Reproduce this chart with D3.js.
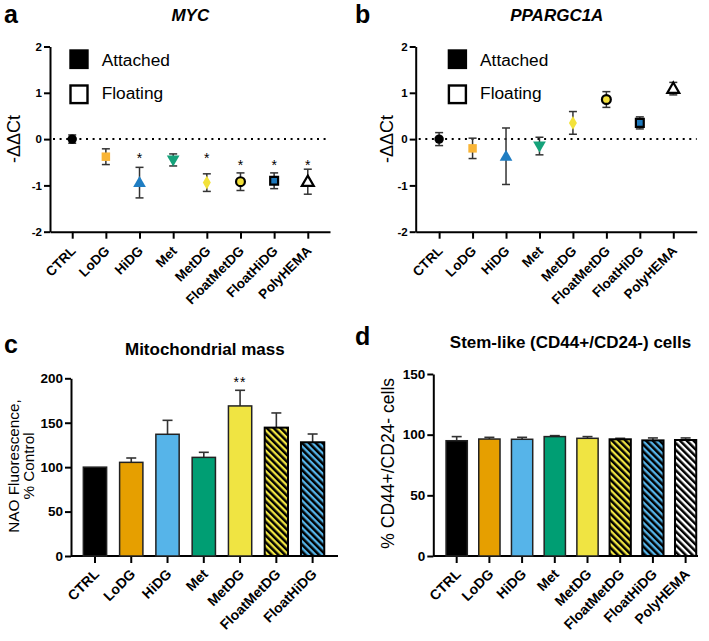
<!DOCTYPE html>
<html><head><meta charset="utf-8">
<script src="https://cdn.jsdelivr.net/npm/d3@7"></script>
<style>
body{margin:0;background:#fff}
svg{display:block}
text{font-family:"Liberation Sans",Arial,Helvetica,sans-serif}
</style>
</head><body>
<svg id="chart" width="709" height="641"></svg>
<script>
// ---------- DATA ----------
const categories = ["CTRL","LoDG","HiDG","Met","MetDG","FloatMetDG","FloatHiDG","PolyHEMA"];
const mycMean  = [0, -0.38, -0.94, -0.45, -0.94, -0.92, -0.90, -0.92];
const mycSem   = [0.09, 0.17, 0.33, 0.13, 0.19, 0.19, 0.17, 0.27];
const mycStars = ["", "", "*", "", "*", "*", "*", "*"];
const mycStarY = [null, null, -0.36, null, -0.36, -0.5, -0.5, -0.5];
const pgcMean  = [0, -0.20, -0.37, -0.15, 0.35, 0.855, 0.35, 1.09];
const pgcSem   = [0.14, 0.22, 0.61, 0.19, 0.245, 0.17, 0.13, 0.135];
const dctTicks = [-2, -1, 0, 1, 2];
const legendLabels = ["Attached", "Floating"];

const mitoCategories = ["CTRL","LoDG","HiDG","Met","MetDG","FloatMetDG","FloatHiDG"];
const mitoMean  = [100, 105.4, 137, 111, 168.9, 144.5, 128];
const mitoSem   = [0, 4.9, 15.7, 5.7, 17.6, 16.5, 9.3];
const mitoStars = ["", "", "", "", "**", "", ""];
const mitoStarY = [null, null, null, null, 199, null, null];
const mitoTicks = [0, 50, 100, 150, 200];

const stemMean  = [95, 96.4, 96.2, 98.4, 97, 96.2, 95.3, 95.6];
const stemSem   = [3.4, 1.4, 1.6, 0.8, 1.4, 0.8, 2.0, 1.7];
const stemTicks = [0, 50, 100, 150];

// ---------- STYLES ----------
const markerStyle = {
  CTRL:       {shape: d3.symbolCircle,   size: 70, fill: "#000000", stroke: "none", sw: 0},
  LoDG:       {shape: d3.symbolSquare,   size: 72, fill: "#F9B537", stroke: "none", sw: 0},
  HiDG:       {shape: d3.symbolTriangle, size: 70, fill: "#1F7DC2", stroke: "none", sw: 0},
  Met:        {shape: d3.symbolTriangle, size: 70, fill: "#15A27A", stroke: "none", sw: 0, rot: 180},
  MetDG:      {shape: d3.symbolDiamond,  size: 55, fill: "#F3E23A", stroke: "none", sw: 0},
  FloatMetDG: {shape: d3.symbolCircle,   size: 62, fill: "#F2E03A", stroke: "#000", sw: 2.2},
  FloatHiDG:  {shape: d3.symbolSquare,   size: 62, fill: "#1D78BC", stroke: "#000", sw: 2.2},
  PolyHEMA:   {shape: d3.symbolTriangle, size: 62, fill: "#FFFFFF", stroke: "#000", sw: 2.2}
};
const barFill = {
  CTRL: "#000000", LoDG: "#E69F00", HiDG: "#56B4E9", Met: "#009E73", MetDG: "#F0E442",
  FloatMetDG: "url(#hatchY)", FloatHiDG: "url(#hatchB)", PolyHEMA: "url(#hatchW)"
};
const FONT = '"Liberation Sans", Arial, Helvetica, sans-serif';

const svg = d3.select("#chart");
const defs = svg.append("defs");
[["hatchY","#F0E442"],["hatchB","#56B4E9"],["hatchW","#FFFFFF"]].forEach(([id,c])=>{
  const p = defs.append("pattern").attr("id", id).attr("patternUnits","userSpaceOnUse")
    .attr("width", 4.8).attr("height", 4.8).attr("patternTransform","rotate(-45)");
  p.append("rect").attr("width",4.8).attr("height",4.8).attr("fill",c);
  p.append("rect").attr("width",2.5).attr("height",4.8).attr("fill","#000");
});

function styleAxis(g, fs) {
  g.selectAll("path.domain").attr("stroke","#000").attr("stroke-width",2);
  g.selectAll(".tick line").attr("stroke","#000").attr("stroke-width",2);
  g.selectAll(".tick text").attr("fill","#000").attr("font-family",FONT)
    .attr("font-weight","bold").attr("font-size",fs);
}

function letter(txt, x, y) {
  svg.append("text").attr("x",x).attr("y",y).attr("font-size",25).attr("font-weight","bold").text(txt);
}
function title(txt, x, y, fs, italic) {
  svg.append("text").attr("x",x).attr("y",y).attr("text-anchor","middle").attr("font-size",fs)
    .attr("font-weight","bold").attr("font-style", italic ? "italic" : "normal").text(txt);
}
function ylabel(lines, x0, dx, cy, fs) {
  lines.forEach((l,i)=>{
    svg.append("text").attr("transform",`translate(${x0+i*dx},${cy}) rotate(-90)`)
      .attr("text-anchor","middle").attr("font-size",fs).text(l);
  });
}

// ---------- DOT PANELS ----------
function dotPanel(o) {
  const x = d3.scalePoint().domain(categories).range([o.x0, o.x1]).padding(o.pad);
  const y = d3.scaleLinear().domain([-2, 2]).range([231.7, 46.5]);
  const gx = svg.append("g").attr("transform",`translate(0,${y(-2)})`)
    .call(d3.axisBottom(x).tickSize(7).tickSizeOuter(0).tickFormat(""));
  styleAxis(gx, 13.5);
  categories.forEach(c=>{
    svg.append("text").attr("transform",`translate(${x(c)+4.5},${y(-2)+20}) rotate(-45)`)
      .attr("text-anchor","end").attr("font-size",13.5).attr("font-weight","bold").text(c);
  });
  const gy = svg.append("g").attr("transform",`translate(${o.x0},0)`)
    .call(d3.axisLeft(y).tickValues(dctTicks).tickSize(6).tickSizeOuter(0).tickPadding(2).tickFormat(d3.format("d")));
  styleAxis(gy, 11.5);
  gy.selectAll(".tick text").text(d => d < 0 ? "-" + Math.abs(d) : d);
  // dotted zero line
  svg.append("line").attr("x1",o.x0+3).attr("x2",o.x1).attr("y1",y(0)).attr("y2",y(0))
    .attr("stroke","#000").attr("stroke-width",2).attr("stroke-dasharray","2 4.6");
  // error bars
  categories.forEach((c,i)=>{
    const cx = x(c), lo = y(o.mean[i]-o.sem[i]), hi = y(o.mean[i]+o.sem[i]);
    const g = svg.append("g").attr("stroke","#333").attr("stroke-width",1.5);
    g.append("line").attr("x1",cx).attr("x2",cx).attr("y1",lo).attr("y2",hi);
    g.append("line").attr("x1",cx-4).attr("x2",cx+4).attr("y1",lo).attr("y2",lo);
    g.append("line").attr("x1",cx-4).attr("x2",cx+4).attr("y1",hi).attr("y2",hi);
  });
  categories.forEach((c,i)=>{
    const s = markerStyle[c];
    svg.append("path").attr("d", d3.symbol().type(s.shape).size(s.size)())
      .attr("transform",`translate(${x(c)},${y(o.mean[i]) + (s.shape===d3.symbolTriangle ? (s.rot?-0.8:0.8) : 0)}) rotate(${s.rot||0})`)
      .attr("fill", s.fill).attr("stroke", s.stroke).attr("stroke-width", s.sw);
  });
  if (o.stars) categories.forEach((c,i)=>{
    if (!o.stars[i]) return;
    svg.append("text").attr("x",x(c)).attr("y",y(o.starY[i])+7.5).attr("text-anchor","middle")
      .attr("font-size",14).text(o.stars[i]);
  });
  // legend
  svg.append("rect").attr("x",o.lx).attr("y",49.3).attr("width",19.4).attr("height",19.8).attr("fill","#000");
  svg.append("rect").attr("x",o.lx+1.2).attr("y",85.5).attr("width",17).attr("height",17.6)
    .attr("fill","#fff").attr("stroke","#000").attr("stroke-width",2.4);
  svg.append("text").attr("x",o.lx+32.4).attr("y",66).attr("font-size",17.3).text(legendLabels[0]);
  svg.append("text").attr("x",o.lx+32.4).attr("y",99).attr("font-size",17.3).text(legendLabels[1]);
}

dotPanel({x0:50, x1:330, pad:0.66, mean:mycMean, sem:mycSem, stars:mycStars, starY:mycStarY, lx:69.3});
dotPanel({x0:415.7, x1:696.7, pad:0.7, mean:pgcMean, sem:pgcSem, lx:447.7});
letter("a", 4, 22.7); letter("b", 355, 22.7);
title("MYC", 190.3, 20.7, 17, true);
title("PPARGC1A", 556.8, 20.7, 17, true);
ylabel(["-ΔΔCt"], 20, 0, 139, 18);
svg.append("text").attr("transform",`translate(393.3,139) rotate(-90)`).attr("text-anchor","middle")
  .attr("font-size",18).text("-ΔΔCt");

// ---------- BAR PANELS ----------
function barPanel(o) {
  const x = d3.scaleBand().domain(o.cats).range([o.x0, o.bandEnd]).paddingInner(o.pi).paddingOuter(o.po);
  const y = d3.scaleLinear().domain([0, o.ymax]).range([556, o.yTop]);
  const gx = svg.append("g").attr("transform",`translate(0,556)`)
    .call(d3.axisBottom(x).tickSize(7).tickSizeOuter(0).tickFormat(""));
  gx.select("path.domain").remove();
  styleAxis(gx, 14);
  svg.append("line").attr("x1",o.x0).attr("x2",o.axisEnd).attr("y1",556).attr("y2",556)
    .attr("stroke","#000").attr("stroke-width",2);
  o.cats.forEach(c=>{
    svg.append("text").attr("transform",`translate(${x(c)+x.bandwidth()/2+5},${556+19}) rotate(-45)`)
      .attr("text-anchor","end").attr("font-size",14).attr("font-weight","bold").text(c);
  });
  // error bars (upper only)
  o.cats.forEach((c,i)=>{
    if (!o.sem[i]) return;
    const cx = x(c)+x.bandwidth()/2, top = y(o.mean[i]+o.sem[i]);
    const g = svg.append("g").attr("stroke","#333").attr("stroke-width",1.6);
    g.append("line").attr("x1",cx).attr("x2",cx).attr("y1",y(o.mean[i])).attr("y2",top);
    g.append("line").attr("x1",cx-5).attr("x2",cx+5).attr("y1",top).attr("y2",top);
  });
  o.cats.forEach((c,i)=>{
    const hatched = barFill[c].startsWith("url");
    svg.append("rect").attr("x",x(c)).attr("width",x.bandwidth())
      .attr("y",y(o.mean[i])).attr("height",556 - y(o.mean[i]))
      .attr("fill",barFill[c]).attr("stroke", hatched ? "#000" : "#222").attr("stroke-width", hatched ? 2 : 1.5);
  });
  const gy = svg.append("g").attr("transform",`translate(${o.x0},0)`)
    .call(d3.axisLeft(y).tickValues(o.ticks).tickSize(6).tickSizeOuter(0).tickPadding(2));
  styleAxis(gy, 13.5);
  if (o.stars) o.cats.forEach((c,i)=>{
    if (!o.stars[i]) return;
    svg.append("text").attr("x",x(c)+x.bandwidth()/2).attr("y",y(o.starY[i])+8).attr("text-anchor","middle")
      .attr("font-size",14).attr("letter-spacing",1).text(o.stars[i]);
  });
}

barPanel({cats:mitoCategories, x0:71, bandEnd:336.6, axisEnd:338, pi:0.358, po:0.34, ymax:200, yTop:378.3,
  mean:mitoMean, sem:mitoSem, ticks:mitoTicks, stars:mitoStars, starY:mitoStarY});
barPanel({cats:categories, x0:433.3, bandEnd:709, axisEnd:698, pi:0.35, po:0.39, ymax:150, yTop:374,
  mean:stemMean, sem:stemSem, ticks:stemTicks});
letter("c", 4, 353.3); letter("d", 355, 345);
title("Mitochondrial mass", 204.8, 355, 17, false);
title("Stem-like (CD44+/CD24-) cells", 570.5, 348.3, 17, false);
ylabel(["NAO Fluorescence,", "% Control"], 18.5, 15.5, 466, 15.3);
ylabel(["% CD44+/CD24- cells"], 394, 0, 463.3, 17.5);
</script>
</body></html>
